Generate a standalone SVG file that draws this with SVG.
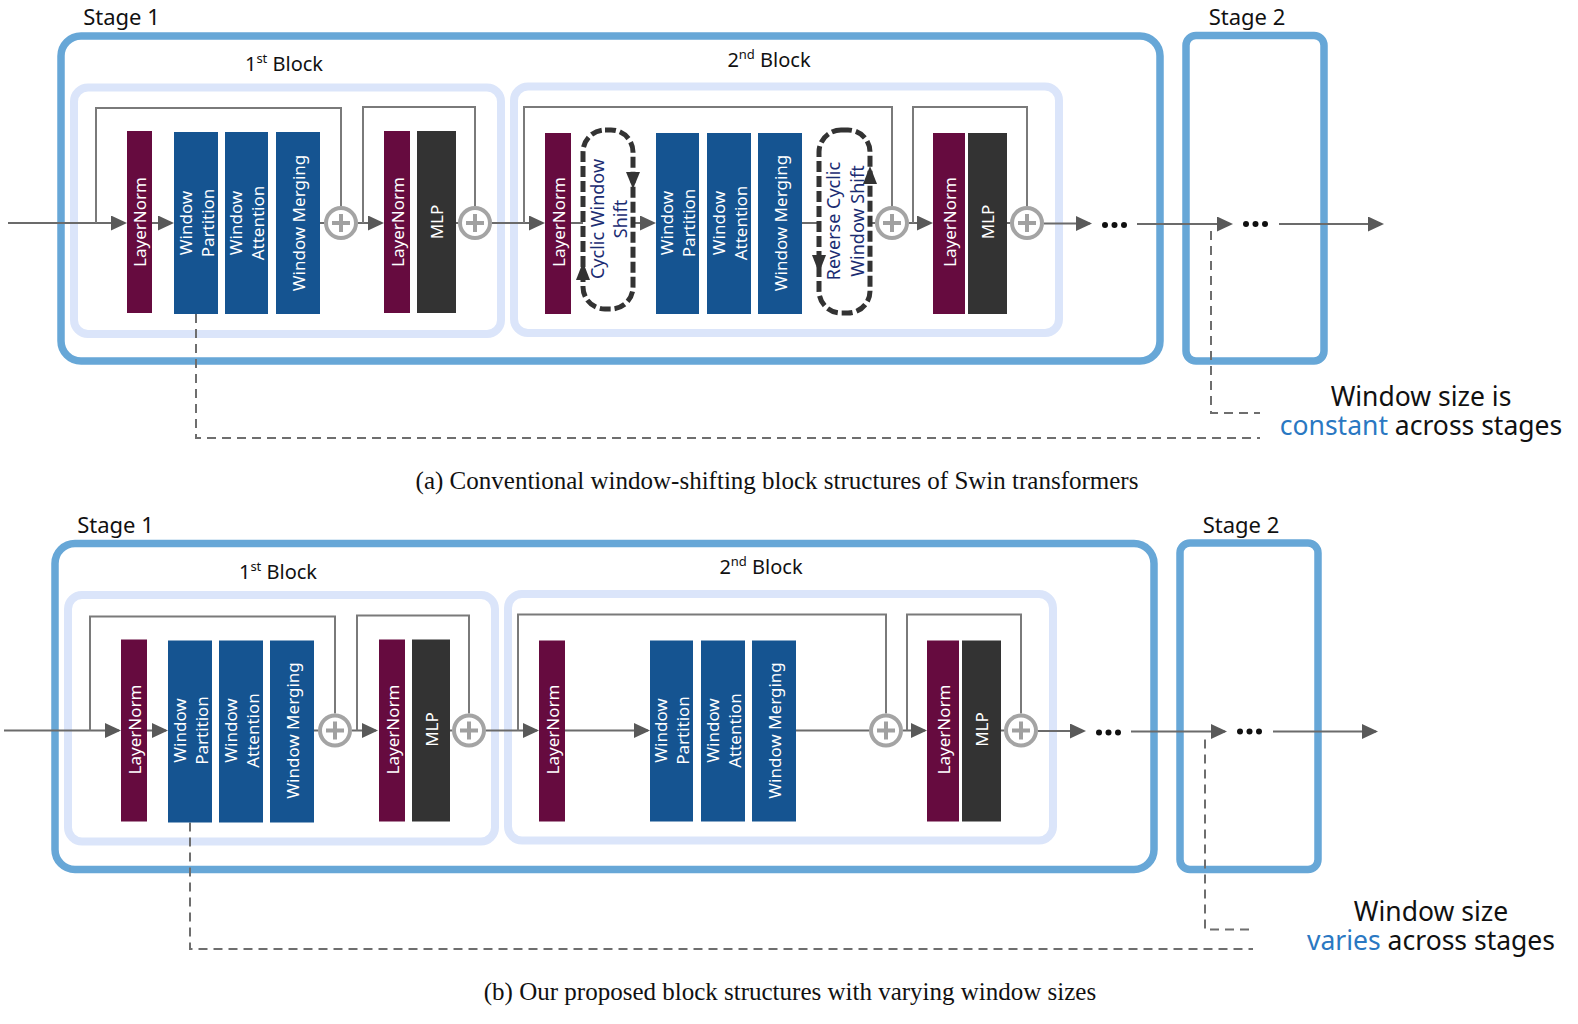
<svg xmlns="http://www.w3.org/2000/svg" width="1578" height="1024" viewBox="0 0 1578 1024">
<style>
text{font-family:"Noto Sans","DejaVu Sans",sans-serif;}
.lbl{font-size:22px;fill:#111;}
.blk{font-size:20px;fill:#111;}
.wt{font-size:17px;fill:#fff;text-anchor:middle;dominant-baseline:central;}
.nv{font-size:18px;fill:#1b2c72;text-anchor:middle;dominant-baseline:central;}
.note{font-size:26.5px;fill:#111;text-anchor:middle;}
.hl{fill:#2a78c2;}
.cap{font-family:"Liberation Serif","Times New Roman",serif;font-size:25px;fill:#111;text-anchor:middle;}
.stage{fill:none;stroke:#67a7d7;stroke-width:7.5;}
.block{fill:#fff;stroke:#dbe5fa;stroke-width:8;}
.ln{fill:#660b3f;}
.bl{fill:#155491;}
.mlp{fill:#333;}
.cw{fill:#fff;stroke:#333;stroke-width:5;stroke-dasharray:11 4;}
.tri{fill:#333;}
.ln2{fill:none;stroke:#6b6b6b;stroke-width:2;}
.sk{fill:none;stroke:#7a7a7a;stroke-width:2;}
.dash{fill:none;stroke:#6e6e6e;stroke-width:2;stroke-dasharray:9 6;}
.plus circle{fill:#fff;stroke:#a4a4a4;stroke-width:4;}
.plus path{stroke:#a0a0a0;stroke-width:4;fill:none;}
.dot{fill:#111;}
</style>
<defs>
<marker id="ah" markerUnits="userSpaceOnUse" markerWidth="16" markerHeight="15" refX="14" refY="7.5" orient="auto">
<path d="M0,0 L16,7.5 L0,15 z" fill="#595959"/>
</marker>
<g id="plusSym" class="plus"><circle cx="0" cy="0" r="15"/><path d="M-9,0 H9 M0,-9 V9"/></g>
</defs>
<rect width="1578" height="1024" fill="#fff"/>

<!-- ===== Panel (a) ===== -->
<g id="panel-a">
<g id="a-stage1"><rect class="stage" x="61" y="36" width="1099" height="325" rx="20"/><text class="lbl" x="121.5" y="25" text-anchor="middle">Stage 1</text></g>
<g id="a-stage2"><rect class="stage" x="1186" y="35.5" width="138" height="325.5" rx="10"/><text class="lbl" x="1247" y="25" text-anchor="middle">Stage 2</text></g>
<g id="a-block1"><rect class="block" x="74" y="87.5" width="427" height="246.5" rx="14"/><text class="blk" x="284" y="71" text-anchor="middle">1<tspan font-size="13" dy="-8">st</tspan><tspan dy="8"> Block</tspan></text></g>
<g id="a-block2"><rect class="block" x="514" y="86.5" width="545" height="246.5" rx="14"/><text class="blk" x="769" y="67" text-anchor="middle">2<tspan font-size="13" dy="-8">nd</tspan><tspan dy="8"> Block</tspan></text></g>

<g id="a-connectors">
<path class="ln2" d="M8,223 H125" marker-end="url(#ah)"/>
<path class="sk" d="M96,223 V108 H341 V206"/>
<path class="ln2" d="M152,223 H172" marker-end="url(#ah)"/>
<path class="ln2" d="M320,223 H324"/>
<path class="ln2" d="M358,223 H382" marker-end="url(#ah)"/>
<path class="sk" d="M363,223 V107 H475 V206"/>
<path class="ln2" d="M456,223 H458"/>
<path class="ln2" d="M492,223 H543" marker-end="url(#ah)"/>
<path class="sk" d="M524,223 V107 H892 V206"/>
<path class="ln2" d="M571,223 H583"/>
<path class="ln2" d="M633,223 H654" marker-end="url(#ah)"/>
<path class="ln2" d="M802,223 H819"/>
<path class="ln2" d="M870,223 H875"/>
<path class="ln2" d="M909,223 H931" marker-end="url(#ah)"/>
<path class="sk" d="M913,223 V107 H1027 V206"/>
<path class="ln2" d="M1007,223 H1010"/>
<path class="ln2" d="M1044,223.5 H1090" marker-end="url(#ah)"/>
<path class="ln2" d="M1137,224 H1231" marker-end="url(#ah)"/>
<path class="ln2" d="M1279,224 H1382" marker-end="url(#ah)"/>
<path class="dash" d="M196,314 V438 H1260"/>
<path class="dash" d="M1211,231 V413 H1260"/>
</g>

<g id="a-ln1"><rect class="ln" x="127" y="131" width="25" height="182"/><text class="wt" transform="translate(139.5,222) rotate(-90)">LayerNorm</text></g>
<g id="a-wp1"><rect class="bl" x="174" y="132" width="44" height="182"/><g transform="translate(196,223) rotate(-90)"><text class="wt" y="-11">Window</text><text class="wt" y="11">Partition</text></g></g>
<g id="a-wa1"><rect class="bl" x="225" y="132" width="43" height="182"/><g transform="translate(246.5,223) rotate(-90)"><text class="wt" y="-11">Window</text><text class="wt" y="11">Attention</text></g></g>
<g id="a-wm1"><rect class="bl" x="276" y="132" width="44" height="182"/><text class="wt" transform="translate(298,223) rotate(-90)">Window Merging</text></g>
<g id="a-add1"><use href="#plusSym" x="341" y="223"/></g>
<g id="a-ln2"><rect class="ln" x="384" y="131" width="26" height="182"/><text class="wt" transform="translate(397,222) rotate(-90)">LayerNorm</text></g>
<g id="a-mlp1"><rect class="mlp" x="417" y="131" width="39" height="182"/><text class="wt" transform="translate(436.5,222) rotate(-90)">MLP</text></g>
<g id="a-add2"><use href="#plusSym" x="475" y="223"/></g>

<g id="a-ln3"><rect class="ln" x="545" y="133" width="26" height="181"/><text class="wt" transform="translate(558,222) rotate(-90)">LayerNorm</text></g>
<g id="a-cws"><rect class="cw" x="583" y="130" width="50" height="179" rx="22"/>
<polygon class="tri" points="633,189 626,172 640,172"/><polygon class="tri" points="583,262 576,280 590,280"/>
<g transform="translate(608,219) rotate(-90)"><text class="nv" y="-11">Cyclic Window</text><text class="nv" y="12">Shift</text></g></g>
<g id="a-wp2"><rect class="bl" x="656" y="133" width="43" height="181"/><g transform="translate(677.5,223) rotate(-90)"><text class="wt" y="-11">Window</text><text class="wt" y="11">Partition</text></g></g>
<g id="a-wa2"><rect class="bl" x="707" y="133" width="44" height="181"/><g transform="translate(729,223) rotate(-90)"><text class="wt" y="-11">Window</text><text class="wt" y="11">Attention</text></g></g>
<g id="a-wm2"><rect class="bl" x="758" y="133" width="44" height="181"/><text class="wt" transform="translate(780,223) rotate(-90)">Window Merging</text></g>
<g id="a-rcws"><rect class="cw" x="819" y="130" width="51" height="183" rx="22"/>
<polygon class="tri" points="819,273 812,255 826,255"/><polygon class="tri" points="870,166 863,184 877,184"/>
<g transform="translate(845,221) rotate(-90)"><text class="nv" y="-12">Reverse Cyclic</text><text class="nv" y="12">Window Shift</text></g></g>
<g id="a-add3"><use href="#plusSym" x="892" y="223"/></g>
<g id="a-ln4"><rect class="ln" x="933" y="133" width="32" height="181"/><text class="wt" transform="translate(949,222) rotate(-90)">LayerNorm</text></g>
<g id="a-mlp2"><rect class="mlp" x="968" y="133" width="39" height="181"/><text class="wt" transform="translate(987.5,222) rotate(-90)">MLP</text></g>
<g id="a-add4"><use href="#plusSym" x="1027" y="223"/></g>
<g id="a-dots1"><circle class="dot" cx="1105" cy="225" r="3"/><circle class="dot" cx="1114.5" cy="225" r="3"/><circle class="dot" cx="1124" cy="225" r="3"/></g>
<g id="a-dots2"><circle class="dot" cx="1246" cy="224" r="3"/><circle class="dot" cx="1255.5" cy="224" r="3"/><circle class="dot" cx="1265" cy="224" r="3"/></g>
<g id="a-note"><text class="note"><tspan x="1421" y="406">Window size is</tspan><tspan x="1421" y="435"><tspan class="hl">constant</tspan> across stages</tspan></text></g>
</g>
<text id="cap-a" class="cap" x="777" y="489">(a) Conventional window-shifting block structures of Swin transformers</text>

<!-- ===== Panel (b) ===== -->
<g id="panel-b" transform="translate(-6,507.5)">
<g id="b-stage1"><rect class="stage" x="61" y="36" width="1099" height="326" rx="20"/><text class="lbl" x="121.5" y="25" text-anchor="middle">Stage 1</text></g>
<g id="b-stage2"><rect class="stage" x="1186" y="35.5" width="138" height="326.5" rx="10"/><text class="lbl" x="1247" y="25" text-anchor="middle">Stage 2</text></g>
<g id="b-block1"><rect class="block" x="74" y="87.5" width="427" height="246.5" rx="14"/><text class="blk" x="284" y="71" text-anchor="middle">1<tspan font-size="13" dy="-8">st</tspan><tspan dy="8"> Block</tspan></text></g>
<g id="b-block2"><rect class="block" x="514" y="86.5" width="545" height="246.5" rx="14"/><text class="blk" x="767" y="66" text-anchor="middle">2<tspan font-size="13" dy="-8">nd</tspan><tspan dy="8"> Block</tspan></text></g>

<g id="b-connectors">
<path class="ln2" d="M10,223 H125" marker-end="url(#ah)"/>
<path class="sk" d="M96,223 V109 H341 V206"/>
<path class="ln2" d="M152,223 H172" marker-end="url(#ah)"/>
<path class="ln2" d="M320,223 H324"/>
<path class="ln2" d="M358,223 H382" marker-end="url(#ah)"/>
<path class="sk" d="M363,223 V108 H475 V206"/>
<path class="ln2" d="M456,223 H458"/>
<path class="ln2" d="M492,223 H543" marker-end="url(#ah)"/>
<path class="sk" d="M524,223 V107 H892 V206"/>
<path class="ln2" d="M571,223 H654" marker-end="url(#ah)"/>
<path class="ln2" d="M802,223 H875"/>
<path class="ln2" d="M909,223 H931" marker-end="url(#ah)"/>
<path class="sk" d="M913,223 V107 H1027 V206"/>
<path class="ln2" d="M1007,223 H1010"/>
<path class="ln2" d="M1044,223.5 H1090" marker-end="url(#ah)"/>
<path class="ln2" d="M1137,224 H1231" marker-end="url(#ah)"/>
<path class="ln2" d="M1279,224 H1382" marker-end="url(#ah)"/>
<path class="dash" d="M196,315 V441.5 H1259"/>
<path class="dash" d="M1211,232 V422 H1259"/>
</g>

<g id="b-ln1"><rect class="ln" x="127" y="132" width="26" height="182"/><text class="wt" transform="translate(140,222) rotate(-90)">LayerNorm</text></g>
<g id="b-wp1"><rect class="bl" x="174" y="133" width="44" height="182"/><g transform="translate(196,223) rotate(-90)"><text class="wt" y="-11">Window</text><text class="wt" y="11">Partition</text></g></g>
<g id="b-wa1"><rect class="bl" x="225" y="133" width="44" height="182"/><g transform="translate(247,223) rotate(-90)"><text class="wt" y="-11">Window</text><text class="wt" y="11">Attention</text></g></g>
<g id="b-wm1"><rect class="bl" x="276" y="133" width="44" height="182"/><text class="wt" transform="translate(298,223) rotate(-90)">Window Merging</text></g>
<g id="b-add1"><use href="#plusSym" x="341" y="223"/></g>
<g id="b-ln2"><rect class="ln" x="385" y="132" width="26" height="182"/><text class="wt" transform="translate(398,222) rotate(-90)">LayerNorm</text></g>
<g id="b-mlp1"><rect class="mlp" x="418" y="132" width="38" height="182"/><text class="wt" transform="translate(437,222) rotate(-90)">MLP</text></g>
<g id="b-add2"><use href="#plusSym" x="475" y="223"/></g>

<g id="b-ln3"><rect class="ln" x="545" y="133" width="26" height="181"/><text class="wt" transform="translate(558,222) rotate(-90)">LayerNorm</text></g>
<g id="b-wp2"><rect class="bl" x="656" y="133" width="43" height="181"/><g transform="translate(677.5,223) rotate(-90)"><text class="wt" y="-11">Window</text><text class="wt" y="11">Partition</text></g></g>
<g id="b-wa2"><rect class="bl" x="707" y="133" width="44" height="181"/><g transform="translate(729,223) rotate(-90)"><text class="wt" y="-11">Window</text><text class="wt" y="11">Attention</text></g></g>
<g id="b-wm2"><rect class="bl" x="758" y="133" width="44" height="181"/><text class="wt" transform="translate(780,223) rotate(-90)">Window Merging</text></g>
<g id="b-add3"><use href="#plusSym" x="892" y="223"/></g>
<g id="b-ln4"><rect class="ln" x="933" y="133" width="32" height="181"/><text class="wt" transform="translate(949,222) rotate(-90)">LayerNorm</text></g>
<g id="b-mlp2"><rect class="mlp" x="968" y="133" width="39" height="181"/><text class="wt" transform="translate(987.5,222) rotate(-90)">MLP</text></g>
<g id="b-add4"><use href="#plusSym" x="1027" y="223"/></g>
<g id="b-dots1"><circle class="dot" cx="1105" cy="225" r="3"/><circle class="dot" cx="1114.5" cy="225" r="3"/><circle class="dot" cx="1124" cy="225" r="3"/></g>
<g id="b-dots2"><circle class="dot" cx="1246" cy="224" r="3"/><circle class="dot" cx="1255.5" cy="224" r="3"/><circle class="dot" cx="1265" cy="224" r="3"/></g>
<g id="b-note"><text class="note"><tspan x="1437" y="413.5">Window size</tspan><tspan x="1437" y="442.5"><tspan class="hl">varies</tspan> across stages</tspan></text></g>
</g>
<text id="cap-b" class="cap" x="790" y="1000">(b) Our proposed block structures with varying window sizes</text>
</svg>
